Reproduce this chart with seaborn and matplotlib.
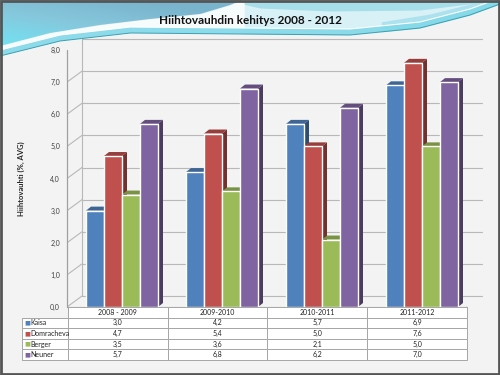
import numpy as np
import pandas as pd
import seaborn as sns
import matplotlib
matplotlib.use("Agg")
import matplotlib.pyplot as plt
from matplotlib.patches import Polygon
from matplotlib.colors import LinearSegmentedColormap
from matplotlib.transforms import IdentityTransform, offset_copy

# data
categories = ['2008 - 2009', '2009-2010', '2010-2011', '2011-2012']
names = ['Kaisa', 'Domracheva', 'Berger', 'Neuner']
kaisa = [3.0, 4.2, 5.7, 6.9]
domracheva = [4.7, 5.4, 5.0, 7.6]
berger = [3.5, 3.6, 2.1, 5.0]
neuner = [5.7, 6.8, 6.2, 7.0]
colors = ['#4F81BD', '#C0504D', '#9BBB59', '#8064A2']

series = [kaisa, domracheva, berger, neuner]
df = pd.DataFrame({
    'Kausi': categories * 4,
    'Nimi': [n for n in names for _ in categories],
    'Arvo': kaisa + domracheva + berger + neuner,
})

sns.set_theme(style='white')
plt.rcParams['font.family'] = ['Lato', 'DejaVu Sans']

W, H = 500, 375
fig = plt.figure(figsize=(5, 3.75), dpi=100)
bg = '#F3F3F3'
fig.patch.set_facecolor(bg)

# ---- slide background (wave at top) ----
deco = fig.add_axes([0, 0, 1, 1], zorder=-5)
deco.set_xlim(0, W)
deco.set_ylim(H, 0)
deco.axis('off')
xs = np.linspace(0, W, 300)
rib = np.interp(xs, [0, 60, 130, 250, 350, 420, 470, 500], [56, 41, 33, 34, 35, 28, 15, 4])
blue = np.interp(xs, [0, 50, 100, 150, 200, 230, 242], [46, 33, 25, 19, 14, 5, 0])

# right part: pale cyan gradient above the ribbon
deco.fill_between(xs, 0, rib, where=xs >= 200, color='#D8F1F6', lw=0)
top = np.interp(xs, [225, 260, 330, 420, 460, 500], [0, 8, 11, 10, 5, 0])
deco.fill_between(xs, 0, top, where=xs >= 225, color='#A6DEEA', lw=0)
streak = np.interp(xs, [380, 430, 470, 500], [30, 22, 12, 2])
deco.fill_between(xs, streak - 8, rib, where=xs >= 380, color='#9ADCEA', lw=0, alpha=0.7)

# left part: blue gradient region
deco.fill_between(xs, blue, rib, where=xs <= 245, color='#F6FBFC', lw=0)
poly_x = np.concatenate([xs[xs <= 242], [242, 0]])
poly_y = np.concatenate([blue[xs <= 242], [0, 0]])
clip = Polygon(np.column_stack([poly_x, poly_y]), closed=True, transform=deco.transData,
               fc='none', ec='none')
deco.add_patch(clip)
gx, gy = np.meshgrid(np.linspace(0, 1, 60), np.linspace(0, 1, 30))
grad = np.clip(0.75 * gy - 0.6 * gx + 0.35, 0, 1)
cmap = LinearSegmentedColormap.from_list('wave', ['#79B4CC', '#86C7DC', '#74E0F0'])
im = deco.imshow(grad, cmap=cmap, extent=[0, 242, 50, 0], aspect='auto', zorder=1)
im.set_clip_path(clip)

deco.fill_between(xs, rib - 6, rib, color='#82D8E8', lw=0, alpha=0.9, zorder=2)
deco.plot(xs, rib, color='#3A9FB0', lw=0.7, zorder=3)
deco.plot(xs, rib - 6, color='#FFFFFF', lw=0.8, zorder=3)
deco.set_xlim(0, W)
deco.set_ylim(H, 0)
deco.add_patch(plt.Rectangle((1, 1), W - 2, H - 2, fill=False, ec='#555555', lw=2, zorder=4))

fig.text(0.5, 1 - 20 / H, 'Hiihtovauhdin kehitys 2008 - 2012', ha='center', va='center',
         fontsize=8.5, fontweight='bold', color='#111111')

# ---- chart ----
ax = fig.add_axes([67 / W, 1 - 307 / H, 400 / W, 257 / H])
ax.set_facecolor('none')
sns.barplot(data=df, x='Kausi', y='Arvo', hue='Nimi', palette=colors, width=0.72,
            gap=0, saturation=1, legend=False, ax=ax, zorder=3)
ax.set_xlim(-0.55, 3.45)
ax.set_ylim(0, 8)
ax.set_yticks(np.arange(0, 9))
ax.set_yticklabels([f'{v:.1f}'.replace('.', ',') for v in np.arange(0, 9)], fontsize=5, color='#404040')
ax.tick_params(axis='y', length=0, pad=5)
ax.set_xticks([])
ax.set_xlabel('')
ax.set_ylabel('Hiihtovauhti (%, AVG)', fontsize=5.5, fontweight='bold', labelpad=18)
for s in ax.spines.values():
    s.set_visible(False)

fig.canvas.draw()
dx, dy = 15, 11
grid_c = '#B8B8B8'
back = offset_copy(ax.transData, fig=fig, x=dx, y=dy, units='dots')
x0, x1 = ax.get_xlim()
for yv in range(0, 9):
    ax.plot([x0, x1], [yv, yv], transform=back, color=grid_c, lw=0.8, clip_on=False, zorder=0)
    fx, fy = ax.transData.transform((x0, yv))
    ax.add_line(plt.Line2D([fx, fx + dx], [fy, fy + dy], transform=IdentityTransform(),
                           color=grid_c, lw=0.8, zorder=0))
# left axis, back wall edge, floor
ax.plot([x0, x0], [0, 8], color='#A0A0A0', lw=0.9, clip_on=False, zorder=1)
ax.plot([x0, x0], [0, 8], transform=back, color=grid_c, lw=0.8, clip_on=False, zorder=0)
ax.plot([x0, x1], [0, 0], color='#A0A0A0', lw=0.8, clip_on=False, zorder=1)
rx, ry = ax.transData.transform((x1, 0))
ax.add_line(plt.Line2D([rx, rx + dx], [ry, ry + dy], transform=IdentityTransform(),
                       color=grid_c, lw=0.8, zorder=0))

# pseudo 3D faces, drawn behind the front faces so the next bar hides them
ddx, ddy = 5, 4
for p in ax.patches:
    h = p.get_height()
    if np.isnan(h):
        continue
    c = np.array(matplotlib.colors.to_rgb(p.get_facecolor()))
    bx0, by0 = ax.transData.transform((p.get_x(), 0))
    bx1, by1 = ax.transData.transform((p.get_x() + p.get_width(), h))
    side = Polygon([(bx1, by0), (bx1 + ddx, by0 + ddy), (bx1 + ddx, by1 + ddy), (bx1, by1)],
                   closed=True, transform=IdentityTransform(), fc=c * 0.6, ec='none', zorder=2.5)
    top = Polygon([(bx0, by1), (bx0 + ddx, by1 + ddy), (bx1 + ddx, by1 + ddy), (bx1, by1)],
                  closed=True, transform=IdentityTransform(), fc=c * 0.78, ec='none', zorder=2.5)
    ax.add_patch(side)
    ax.add_patch(top)

# ---- data table ----
tax = fig.add_axes([22 / W, 1 - 360 / H, 445 / W, 53 / H])
tax.axis('off')
cells = [[''] + categories]
for n, vals in zip(names, series):
    cells.append([''] + [f'{v:.1f}'.replace('.', ',') for v in vals])
tbl = tax.table(cellText=cells, cellLoc='center', colWidths=[46, 100, 100, 100, 100],
                bbox=[0, 0, 1, 1])
tbl.auto_set_font_size(False)
tbl.set_fontsize(5)
for (r, c), cell in tbl.get_celld().items():
    cell.set_edgecolor('#A6A6A6')
    cell.set_linewidth(0.7)
    cell.set_facecolor('white')
    cell.get_text().set_color('#222222')
tbl[0, 0].visible_edges = 'BR'
tbl[0, 0].set_facecolor('none')

row_h = 53 / 5
for i, (n, col) in enumerate(zip(names, colors)):
    yc = 1 - (307 + row_h * (i + 1.5)) / H
    fig.text(24 / W, yc, '■', color=col, fontsize=4.5, va='center', ha='left',
             family=['DejaVu Sans'])
    fig.text(30 / W, yc, n, fontsize=5, va='center', ha='left', color='#222222')

fig.savefig('out.png', dpi=100, facecolor=fig.get_facecolor())
